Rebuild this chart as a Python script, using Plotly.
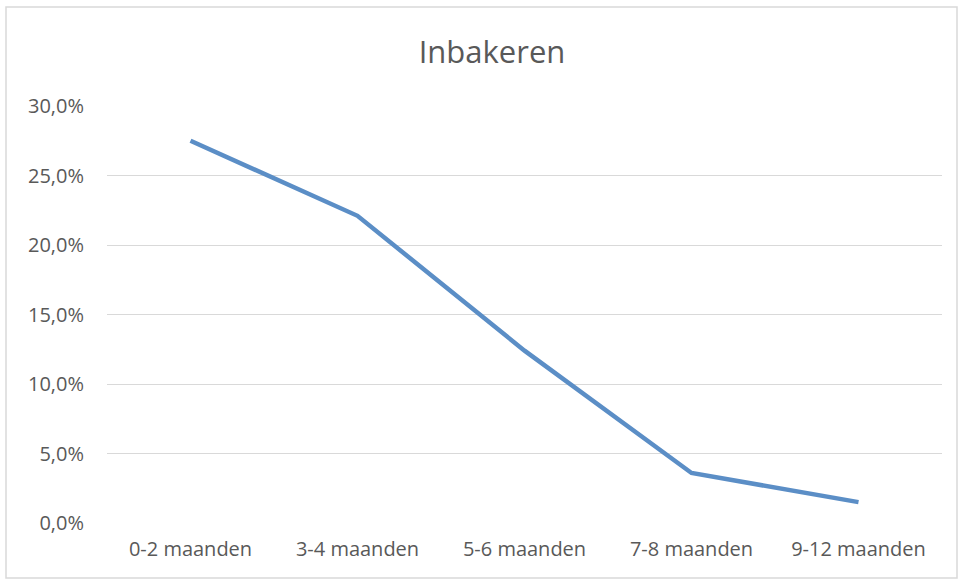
import plotly.graph_objects as go

# Share of babies swaddled, by age group (percent)
categories = ["0-2 maanden", "3-4 maanden", "5-6 maanden", "7-8 maanden", "9-12 maanden"]
inbakeren_pct = [27.5, 22.1, 12.4, 3.6, 1.5]

y_ticks_pct = [0, 5, 10, 15, 20, 25, 30]

W, H = 958, 579
L, R, T, B = 107, 16, 106, 56
plot_w = W - L - R
plot_h = H - T - B

text_color = "#595959"
grid_color = "#d9d9d9"

fig = go.Figure()
fig.add_trace(go.Scatter(
    x=categories,
    y=[v / 100 for v in inbakeren_pct],
    mode="lines",
    line=dict(color="#5b8ec6", width=4.5),
    hovertemplate="%{x}: %{y:.1%}<extra></extra>",
    showlegend=False,
))

fig.update_layout(
    width=W,
    height=H,
    margin=dict(l=L, r=R, t=T, b=B, autoexpand=False),
    paper_bgcolor="white",
    plot_bgcolor="white",
    separators=",.",
    font=dict(family="Open Sans, sans-serif", color=text_color),
    title=dict(
        text="Inbakeren",
        x=492 / W,
        xanchor="center",
        y=1 - 52 / H,
        yanchor="middle",
        font=dict(size=31, color=text_color),
    ),
    xaxis=dict(
        type="category",
        range=[-0.5, len(categories) - 0.5],
        showgrid=False,
        showline=False,
        zeroline=False,
        ticks="",
        tickfont=dict(size=20, color=text_color),
        ticklabelstandoff=12,
        automargin=False,
        fixedrange=True,
    ),
    yaxis=dict(
        range=[0, 0.30],
        tickvals=[v / 100 for v in y_ticks_pct],
        tickformat=".1%",
        showgrid=True,
        gridcolor=grid_color,
        gridwidth=1.3,
        zeroline=False,
        showline=False,
        ticks="",
        tickfont=dict(size=20, color=text_color),
        ticklabelstandoff=22,
        automargin=False,
        fixedrange=True,
    ),
)

# Light chart-area border
fig.add_shape(
    type="rect",
    xref="paper", yref="paper",
    x0=(6 - L) / plot_w, x1=(957 - L) / plot_w,
    y0=(H - B - 578) / plot_h, y1=(H - B - 7) / plot_h,
    line=dict(color=grid_color, width=1.5),
    fillcolor="rgba(0,0,0,0)",
    layer="below",
)

fig.write_html("out.html")
